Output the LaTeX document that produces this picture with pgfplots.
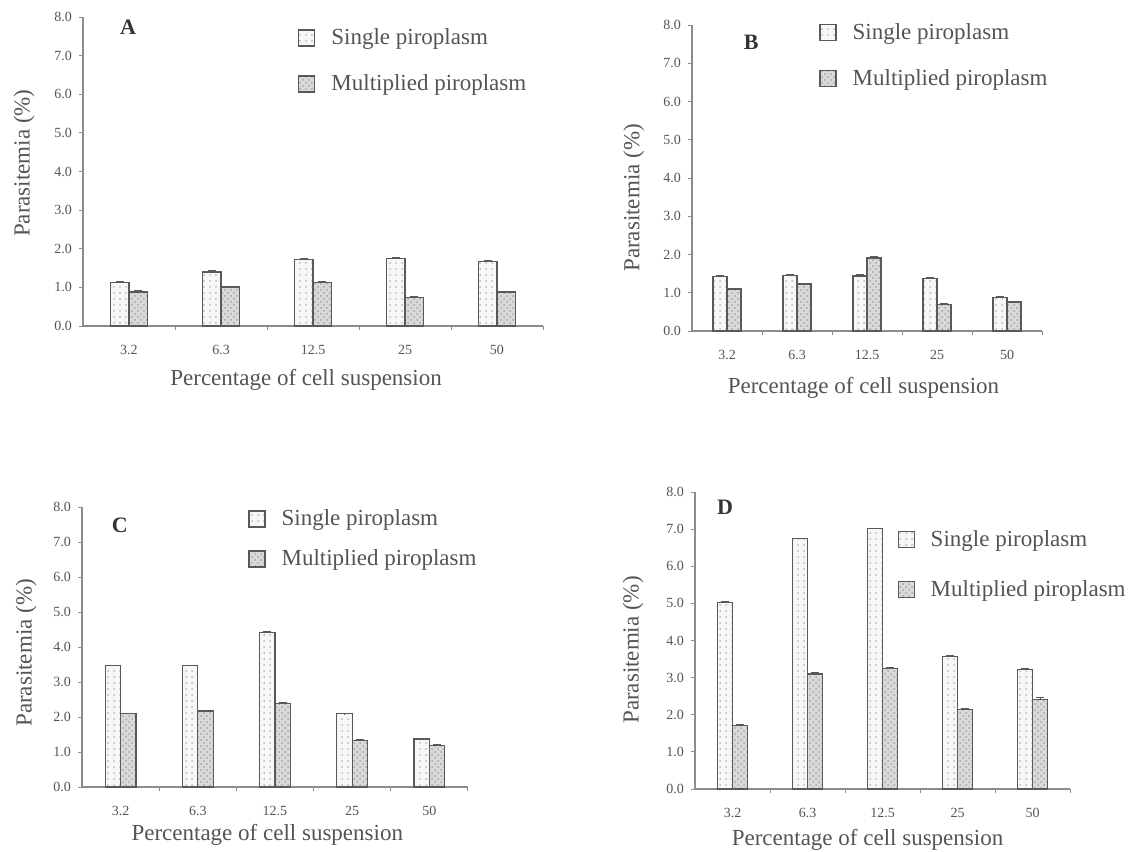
\documentclass[border=0pt]{standalone}
\usepackage{fontspec}
\setmainfont{Liberation Serif}
\usepackage{pgfplots}
\pgfplotsset{compat=1.18}
\usetikzlibrary{patterns}
\definecolor{txt}{gray}{0.33}
\definecolor{axc}{gray}{0.55}
\definecolor{barc}{gray}{0.35}
\newcommand{\lblfont}{\fontsize{11.5}{13}\selectfont}
\newcommand{\tckfont}{\fontsize{7}{8}\selectfont}
\pgfplotsset{
  eb/.style={
    error bars/y dir=plus, error bars/y explicit,
    error bars/error bar style={barc, line width=0.5pt},
    error bars/error mark options={barc, line width=0.5pt, mark size=2pt, rotate=90}},
  sbar/.style={fill=gray!6, draw=barc, line width=0.6pt,
    postaction={pattern=dots, pattern color=gray!55},
    bar shift=-0.1, eb,
    /pgfplots/legend image code/.code={\draw[##1] (0pt,-4pt) rectangle (8pt,4pt);}},
  mbar/.style={fill=gray!30, draw=barc, line width=0.6pt,
    postaction={pattern=crosshatch dots, pattern color=gray!70},
    bar shift=0.1, eb,
    /pgfplots/legend image code/.code={\draw[##1] (0pt,-4pt) rectangle (8pt,4pt);}},
  panel/.style={
    scale only axis, anchor=south west,
    xmin=-0.5, xmax=4.5, ymin=0, ymax=8,
    axis x line*=bottom, axis y line*=left,
    axis line style={axc, line width=0.6pt},
    tick align=outside, major tick length=2pt,
    every tick/.style={axc, line width=0.5pt},
    ytick={0,1,...,8},
    /pgf/number format/assume math mode=true,
    yticklabel style={/pgf/number format/.cd, fixed, fixed zerofill, precision=1, /tikz/.cd, font=\tckfont, text=txt},
    xtick={0.5,1.5,2.5,3.5,4.5}, xticklabels={},
    extra x ticks={0,1,2,3,4},
    extra x tick labels={3.2,6.3,12.5,25,50},
    extra x tick style={major tick length=0pt, xticklabel style={font=\tckfont, text=txt, yshift=-6pt}},
    ybar=0pt, bar width=0.2,
    xlabel={Percentage of cell suspension},
    ylabel={Parasitemia (\%)},
    label style={font=\lblfont, text=txt},
    legend style={draw=none, fill=none, font=\lblfont, text=txt, anchor=north west, inner sep=0pt,
      /tikz/every odd column/.append style={column sep=6pt}},
    legend cell align=left,
  },
}
\begin{document}
\begin{tikzpicture}
\path[use as bounding box] (0,0) rectangle (564pt,-425.5pt);
% ---------- A ----------
\begin{axis}[panel, at={(41.5pt,-163pt)}, width=230pt, height=154.5pt,
  xlabel style={at={(axis description cs:0.485,-0.175)}, anchor=center},
  ylabel style={at={(axis description cs:-0.128,0.527)}, anchor=center},
  legend style={at={(axis description cs:0.467,0.977)}, row sep=9.5pt}]
\addplot[sbar] coordinates {(0,1.13) +- (0,0.03) (1,1.40) +- (0,0.03) (2,1.73) +- (0,0.03) (3,1.75) +- (0,0.02) (4,1.67) +- (0,0.03)};
\addplot[mbar] coordinates {(0,0.88) +- (0,0.03) (1,1.01) +- (0,0.02) (2,1.12) +- (0,0.02) (3,0.73) +- (0,0.03) (4,0.88) +- (0,0.02)};
\legend{Single piroplasm, Multiplied piroplasm}
\node[font=\bfseries\fontsize{11}{12}\selectfont, text=black!80] at (axis description cs:0.098,0.968) {A};
\end{axis}
% ---------- B ----------
\begin{axis}[panel, at={(346pt,-165.5pt)}, width=175pt, height=153pt,
  xlabel style={at={(axis description cs:0.49,-0.186)}, anchor=center},
  ylabel style={at={(axis description cs:-0.166,0.435)}, anchor=center},
  legend style={at={(axis description cs:0.363,1.02)}, row sep=9.5pt}]
\addplot[sbar] coordinates {(0,1.42) +- (0,0.03) (1,1.45) +- (0,0.03) (2,1.44) +- (0,0.03) (3,1.37) +- (0,0.03) (4,0.88) +- (0,0.03)};
\addplot[mbar] coordinates {(0,1.10) +- (0,0.01) (1,1.23) +- (0,0.02) (2,1.91) +- (0,0.03) (3,0.70) +- (0,0.01) (4,0.76) +- (0,0.01)};
\legend{Single piroplasm, Multiplied piroplasm}
\node[font=\bfseries\fontsize{11}{12}\selectfont, text=black!80] at (axis description cs:0.169,0.944) {B};
\end{axis}
% ---------- C ----------
\begin{axis}[panel, at={(41pt,-393.5pt)}, width=193pt, height=140pt,
  xlabel style={at={(axis description cs:0.48,-0.171)}, anchor=center},
  ylabel style={at={(axis description cs:-0.145,0.479)}, anchor=center},
  legend style={at={(axis description cs:0.43,1.007)}, row sep=6.5pt}]
\addplot[sbar] coordinates {(0,3.47) +- (0,0.01) (1,3.47) +- (0,0.01) (2,4.42) +- (0,0.01) (3,2.09) +- (0,0.01) (4,1.37) +- (0,0.03)};
\addplot[mbar] coordinates {(0,2.09) +- (0,0.02) (1,2.17) +- (0,0.02) (2,2.39) +- (0,0.03) (3,1.34) +- (0,0.03) (4,1.18) +- (0,0.03)};
\legend{Single piroplasm, Multiplied piroplasm}
\node[font=\bfseries\fontsize{11}{12}\selectfont, text=black!80] at (axis description cs:0.098,0.936) {C};
\end{axis}
% ---------- D ----------
\begin{axis}[panel, at={(347.5pt,-394.5pt)}, width=187.5pt, height=148.5pt,
  xlabel style={at={(axis description cs:0.46,-0.172)}, anchor=center},
  ylabel style={at={(axis description cs:-0.165,0.468)}, anchor=center},
  legend style={at={(axis description cs:0.539,0.886)}, row sep=11.5pt}]
\addplot[sbar] coordinates {(0,5.02) +- (0,0.02) (1,6.74) +- (0,0.01) (2,7.01) +- (0,0.01) (3,3.57) +- (0,0.02) (4,3.22) +- (0,0.02)};
\addplot[mbar] coordinates {(0,1.72) +- (0,0.02) (1,3.10) +- (0,0.03) (2,3.24) +- (0,0.03) (3,2.15) +- (0,0.03) (4,2.42) +- (0,0.04)};
\legend{Single piroplasm, Multiplied piroplasm}
\node[font=\bfseries\fontsize{11}{12}\selectfont, text=black!80] at (axis description cs:0.08,0.949) {D};
\end{axis}
\end{tikzpicture}
\end{document}
